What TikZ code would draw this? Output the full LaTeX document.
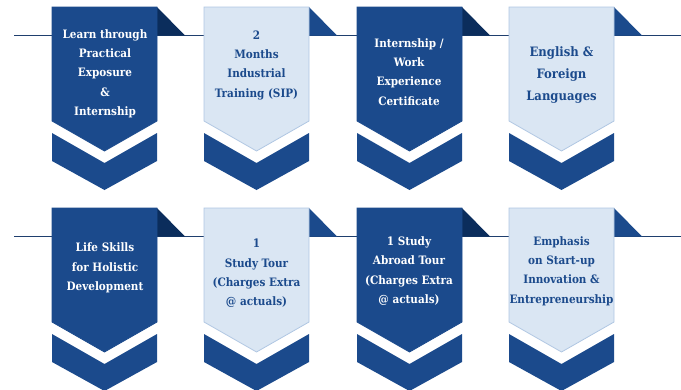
\documentclass[tikz,border=0pt]{standalone}
\usepackage{fontspec}
\setmainfont{DejaVu Serif Condensed}

\definecolor{navy}{HTML}{1B4A8C}
\definecolor{foldnavy}{HTML}{0B2D5C}
\definecolor{pale}{HTML}{DAE6F3}
\definecolor{paleedge}{HTML}{AFC6E2}
\definecolor{rule}{HTML}{1F3F6E}

\tikzset{every picture/.style={line width=0.75pt}}
\tikzset{
  darktext/.style={inner sep=0.75pt, align=center, text=white, font=\bfseries\fontsize{8.7}{14.5}\selectfont},
  paletext/.style={inner sep=0.75pt, align=center, text=navy, font=\bfseries\fontsize{8.7}{14.5}\selectfont},
}

\begin{document}
\begin{tikzpicture}[x=0.75pt,y=0.75pt,yscale=-1,xscale=1]
\clip (0,0) rectangle (681,389);

%Straight Lines (rules behind the banners)
\draw [color=rule, line width=1.2pt]  (14,35.5) -- (681,35.5) ;
\draw [color=rule, line width=1.2pt]  (14,236.5) -- (681,236.5) ;

%Shapes: banners  left / top / body fill / edge / fold
\foreach \L/\T/\f/\e/\d in {52/7/navy/navy/foldnavy, 204/7/pale/paleedge/navy, 357/7/navy/navy/foldnavy, 509/7/pale/paleedge/navy,
                            52/208/navy/navy/foldnavy, 204/208/pale/paleedge/navy, 357/208/navy/navy/foldnavy, 509/208/pale/paleedge/navy}{
  % fold
  \fill [\d] (\L+105,\T) -- (\L+105,\T+28.5) -- (\L+133,\T+28.5) -- cycle ;
  % body
  \draw [draw=\e, fill=\f, line width=0.6pt] (\L,\T) -- (\L+105,\T) -- (\L+105,\T+114) -- (\L+52.5,\T+144) -- (\L,\T+114) -- cycle ;
  % chevron
  \fill [navy] (\L,\T+126) -- (\L+52.5,\T+156) -- (\L+105,\T+126) -- (\L+105,\T+154) -- (\L+52.5,\T+183) -- (\L,\T+154) -- cycle ;
}

% Text Node
\node [darktext] (exposure) at (105,73.5) {Learn through\\Practical\\Exposure\\\&\\Internship};
% Text Node
\node [paletext] (training) at (256.5,65) {2\\Months\\Industrial\\Training (SIP)};
% Text Node
\node [darktext] (certificate) at (409,72) {Internship /\\Work\\Experience\\Certificate};
% Text Node
\node [paletext, font=\bfseries\fontsize{9.7}{16.5}\selectfont] (languages) at (561.5,75) {English \&\\Foreign\\Languages};
% Text Node
\node [darktext] (lifeskills) at (105,268) {Life Skills\\for Holistic\\Development};
% Text Node
\node [paletext] (studytour) at (256.5,273.5) {1\\Study Tour\\(Charges Extra\\@ actuals)};
% Text Node
\node [darktext] (abroad) at (409,271) {1 Study\\Abroad Tour\\(Charges Extra\\@ actuals)};
% Text Node
\node [paletext] (startup) at (561.5,271) {Emphasis\\on Start-up\\Innovation \&\\Entrepreneurship};
\end{tikzpicture}
\end{document}
